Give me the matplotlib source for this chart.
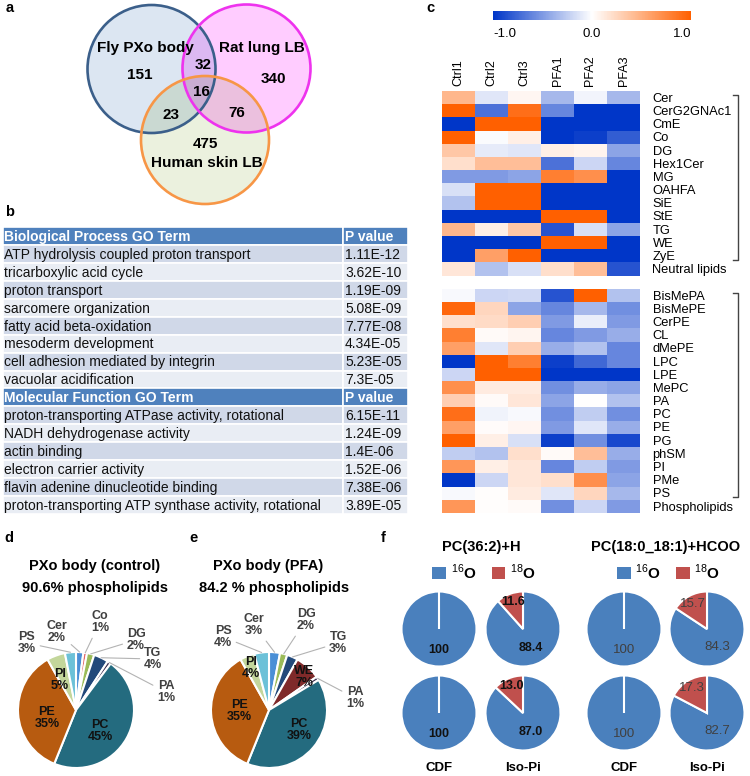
import numpy as np
import matplotlib
matplotlib.use('Agg')
import matplotlib.pyplot as plt
from matplotlib.colors import LinearSegmentedColormap, to_rgb
from matplotlib.patches import Circle, Rectangle, Patch

plt.rcParams['font.family'] = ['Liberation Sans', 'DejaVu Sans']
plt.rcParams['mathtext.fontset'] = 'custom'
plt.rcParams['mathtext.rm'] = 'Liberation Sans'
plt.rcParams['mathtext.bf'] = 'Liberation Sans:bold'
plt.rcParams['axes.unicode_minus'] = False

# ---------------- data ----------------
# a - venn
venn_names = ['Fly PXo body', 'Rat lung LB', 'Human skin LB']
venn_regions = ['fly', 'rat', 'human', 'fly_rat', 'fly_human', 'rat_human', 'all']
venn_counts = [151, 340, 475, 32, 23, 76, 16]

# b - GO terms
bp_terms = ['ATP hydrolysis coupled proton transport', 'tricarboxylic acid cycle',
            'proton transport', 'sarcomere organization', 'fatty acid beta-oxidation',
            'mesoderm development', 'cell adhesion mediated by integrin',
            'vacuolar acidification']
bp_pvals = ['1.11E-12', '3.62E-10', '1.19E-09', '5.08E-09', '7.77E-08',
            '4.34E-05', '5.23E-05', '7.3E-05']
mf_terms = ['proton-transporting ATPase activity, rotational', 'NADH dehydrogenase activity',
            'actin binding', 'electron carrier activity', 'flavin adenine dinucleotide binding',
            'proton-transporting ATP synthase activity, rotational']
mf_pvals = ['6.15E-11', '1.24E-09', '1.4E-06', '1.52E-06', '7.38E-06', '3.89E-05']

# c - heatmap (z-scores)
hm_samples = ['Ctrl1', 'Ctrl2', 'Ctrl3', 'PFA1', 'PFA2', 'PFA3']
neutral_names = ['Cer', 'CerG2GNAc1', 'CmE', 'Co', 'DG', 'Hex1Cer', 'MG', 'OAHFA',
                 'SiE', 'StE', 'TG', 'WE', 'ZyE', 'Neutral lipids']
neutral_vals = [
    [0.45, -0.12, 0.05, -0.35, -0.05, -0.35],
    [1.0, -0.7, 0.9, -0.6, -1.0, -1.0],
    [-1.0, 1.0, 1.0, -1.0, -1.0, -1.0],
    [1.0, -0.02, 0.1, -1.0, -0.95, -0.8],
    [0.35, -0.1, -0.12, 0.1, 0.07, -0.45],
    [0.2, 0.4, 0.4, -0.7, -0.2, -0.6],
    [-0.5, -0.5, -0.45, 0.8, 0.7, -1.0],
    [-0.15, 1.0, 1.0, -1.0, -1.0, -1.0],
    [-0.3, 1.0, 1.0, -1.0, -1.0, -1.0],
    [-1.0, -1.0, -1.0, 1.0, 1.0, -1.0],
    [0.45, 0.1, 0.35, -0.85, -0.15, -0.45],
    [-1.0, -1.0, -1.0, 1.0, 1.0, -1.0],
    [-1.0, 0.6, 1.0, -1.0, -1.0, -1.0],
    [0.15, -0.3, -0.15, 0.2, 0.4, -0.85],
]
phospho_names = ['BisMePA', 'BisMePE', 'CerPE', 'CL', 'dMePE', 'LPC', 'LPE', 'MePC',
                 'PA', 'PC', 'PE', 'PG', 'phSM', 'PI', 'PMe', 'PS', 'Phospholipids']
phospho_vals = [
    [-0.03, -0.2, -0.18, -0.85, 1.0, -0.3],
    [0.95, 0.25, -0.45, -0.6, -0.35, -0.55],
    [0.2, 0.22, 0.3, -0.5, -0.08, -0.5],
    [0.8, 0.03, 0.06, -0.6, -0.5, -0.4],
    [0.6, -0.12, 0.3, -0.4, -0.3, -0.6],
    [-1.0, 1.0, 0.8, -0.95, -0.75, -0.6],
    [-0.2, 1.0, 1.0, -1.0, -1.0, -1.0],
    [0.7, 0.12, 0.12, -0.55, -0.4, -0.45],
    [0.3, 0.03, 0.15, -0.45, 0.0, -0.3],
    [0.9, -0.06, -0.03, -0.55, -0.25, -0.55],
    [0.6, 0.02, 0.05, -0.5, -0.12, -0.4],
    [1.0, 0.1, -0.15, -0.95, -0.55, -0.9],
    [-0.25, -0.3, 0.2, 0.03, 0.4, -0.4],
    [0.65, 0.1, 0.15, -0.6, -0.25, -0.5],
    [-1.0, -0.2, 0.15, 0.2, 0.7, -0.45],
    [-0.03, 0.01, 0.12, -0.12, 0.25, -0.35],
    [0.65, 0.01, 0.03, -0.55, -0.2, -0.5],
]

# d, e - lipid composition (%)
ctrl_lipids = ['Cer', 'Co', 'DG', 'TG', 'PA', 'PC', 'PE', 'PI', 'PS']
ctrl_pct = [2, 1, 2, 4, 1, 45, 35, 5, 3]
pfa_lipids = ['Cer', 'DG', 'TG', 'WE', 'PA', 'PC', 'PE', 'PI', 'PS']
pfa_pct = [3, 2, 3, 7, 1, 39, 35, 4, 4]

# f - 18O incorporation (%), [species][row][sample]
iso_species = ['PC(36:2)+H', 'PC(18:0_18:1)+HCOO']
iso_samples = ['CDF', 'Iso-Pi']
o18_pct = [[[0, 11.6], [0, 13.0]],
           [[0, 15.7], [0, 17.3]]]

# ---------------- layout helpers ----------------
W, H = 750, 776
fig = plt.figure(figsize=(W / 100, H / 100), dpi=100)


def box(x0, y0, x1, y1):
    return fig.add_axes([x0 / W, 1 - y1 / H, (x1 - x0) / W, (y1 - y0) / H])


def ftext(x, y, s, **kw):
    kw.setdefault('ha', 'center')
    kw.setdefault('va', 'center')
    fig.text(x / W, 1 - y / H, s, **kw)


for lab, (x, y) in zip('abcdef', [(10, 8), (10, 212), (430, 8), (9, 538), (193, 538), (383, 538)]):
    ftext(x, y, lab, fontsize=10.5, fontweight='bold')

# ---------------- a: venn ----------------
ax = box(0, 0, 330, 210)
circles = [(151.5, 69, 64), (246.5, 68.5, 64), (205, 140, 64)]
fills = ['#dce6f2', '#ffccff', '#ebf1de']
edges = ['#3b5f8a', '#ee33ee', '#f79646']
X, Y = np.meshgrid(np.arange(330) + 0.5, np.arange(210) + 0.5)
img = np.ones((210, 330, 3))
for (cx, cy, r), fc in zip(circles, fills):
    inside = (X - cx) ** 2 + (Y - cy) ** 2 <= r ** 2
    img[inside] *= np.array(to_rgb(fc))
ax.imshow(img, extent=(0, 330, 210, 0), interpolation='bilinear')
for (cx, cy, r), ec in zip(circles, edges):
    ax.add_patch(Circle((cx, cy), r, fill=False, edgecolor=ec, lw=1.9))
name_pos = [(145, 48), (262, 48), (207, 163)]
for n, (x, y) in zip(venn_names, name_pos):
    ax.text(x, y, n, ha='center', va='center', fontsize=11, fontweight='bold')
count_pos = [(140, 75), (273, 79), (205, 144), (203, 65), (171, 115), (237, 113), (201, 92)]
for c, (x, y) in zip(venn_counts, count_pos):
    ax.text(x, y, str(c), ha='center', va='center', fontsize=11, fontweight='bold')
ax.set_xlim(0, 330)
ax.set_ylim(210, 0)
ax.axis('off')

# ---------------- b: table ----------------
ax = box(3, 227, 410, 514)
rows = ([('Biological Process GO Term', 'P value', True)]
        + [(t, p, False) for t, p in zip(bp_terms, bp_pvals)]
        + [('Molecular Function GO Term', 'P value', True)]
        + [(t, p, False) for t, p in zip(mf_terms, mf_pvals)])
k = 0
for i, (term, pv, head) in enumerate(rows):
    if head:
        fc = '#4f81bd'
        k = 0
    else:
        fc = '#d0d8e8' if k % 2 == 0 else '#e9edf4'
        k += 1
    ax.add_patch(Rectangle((0, i), 340, 1, facecolor=fc, edgecolor='white', lw=1.2))
    ax.add_patch(Rectangle((340, i), 65, 1, facecolor=fc, edgecolor='white', lw=1.2))
    kw = dict(color='white', fontweight='bold') if head else dict(color='#111111')
    ax.text(1, i + 0.55, term, va='center', ha='left', fontsize=10, **kw)
    ax.text(342, i + 0.55, pv, va='center', ha='left', fontsize=10, **kw)
ax.set_xlim(0, 407)
ax.set_ylim(len(rows), 0)
ax.axis('off')

# ---------------- c: heatmap ----------------
cmap = LinearSegmentedColormap.from_list('bwo', ['#0036c8', '#ffffff', '#ff6000'])
cmap.set_bad('white')
mat = np.vstack([np.array(neutral_vals), np.full((1, 6), np.nan), np.array(phospho_vals)])
row_names = neutral_names + [''] + phospho_names
ax = box(442, 90.7, 640, 512.7)
im = ax.imshow(np.ma.masked_invalid(mat), cmap=cmap, vmin=-1, vmax=1, aspect='auto',
               interpolation='nearest')
ax.set_xticks(range(6))
ax.set_xticklabels(hm_samples, rotation=90, fontsize=9)
ax.xaxis.tick_top()
ytk = [i for i, n in enumerate(row_names) if n]
ax.set_yticks(ytk)
ax.set_yticklabels([row_names[i] for i in ytk], fontsize=9.3)
ax.yaxis.tick_right()
ax.tick_params(length=0, pad=3.5)
ax.tick_params(axis='y', pad=9)
for s in ax.spines.values():
    s.set_visible(False)
n_neu = len(neutral_names)
for first, last in [(0, n_neu - 2), (n_neu + 1, n_neu + len(phospho_names) - 1)]:
    ax.plot([8.32, 8.47, 8.47, 8.32], [first - 0.17, first - 0.17, last + 0.3, last + 0.3],
            color='#444444', lw=1.0, clip_on=False)
ax.set_xlim(-0.5, 5.5)
ax.set_ylim(len(row_names) - 0.5, -0.5)

cax = box(493, 11, 691, 20)
cb = fig.colorbar(im, cax=cax, orientation='horizontal', ticks=[-1, 0, 1])
cb.outline.set_visible(False)
cb.ax.set_xticklabels(['-1.0', '0.0', '1.0'], fontsize=9.5)
cb.ax.tick_params(length=0, pad=6)
tl = cb.ax.get_xticklabels()
tl[0].set_ha('left')
tl[-1].set_ha('right')

# ---------------- d, e: pies ----------------
lipid_colors = {'Cer': '#4a8fd6', 'Co': '#e06666', 'DG': '#9bbb59', 'TG': '#23497a',
                'WE': '#7f2a2a', 'PA': '#403152', 'PC': '#246b7f', 'PE': '#b75b10',
                'PI': '#c3d69b', 'PS': '#6cc1d8'}
inside_labels = ['PC', 'PE', 'PI', 'WE']


def lipid_pie(ax, names, pct, label_pos, r=58):
    wedges, _ = ax.pie(pct, colors=[lipid_colors[n] for n in names], startangle=90,
                       counterclock=False, radius=r,
                       wedgeprops=dict(edgecolor='white', linewidth=1.5))
    for w, n, p in zip(wedges, names, pct):
        lx, ly = label_pos[n]
        txt = f'{n}\n{p}%'
        if n in inside_labels:
            ax.text(lx, ly, txt, ha='center', va='center', fontsize=9, fontweight='bold',
                    color='#111111', linespacing=1.05)
        else:
            ang = np.deg2rad((w.theta1 + w.theta2) / 2)
            ax.annotate(txt, xy=(r * np.cos(ang), r * np.sin(ang)), xytext=(lx, ly),
                        ha='center', va='center', fontsize=9, fontweight='bold',
                        color='#404040', linespacing=1.05,
                        arrowprops=dict(arrowstyle='-', color='#b3b3b3', lw=0.8,
                                        shrinkA=1, shrinkB=0))


ctrl_lab_pos = {'Cer': (-19, 78), 'Co': (24, 88), 'DG': (60, 70), 'TG': (77, 51),
                'PA': (90, 18), 'PC': (24, -21), 'PE': (-29, -8), 'PI': (-16, 30),
                'PS': (-49, 67)}
pfa_lab_pos = {'Cer': (-15, 85), 'DG': (37, 90), 'TG': (69, 67), 'WE': (35, 33),
               'PA': (86, 12), 'PC': (30, -20), 'PE': (-30, -1), 'PI': (-18, 42),
               'PS': (-46, 73)}

ftext(95, 566, 'PXo body (control)', fontsize=10.5, fontweight='bold')
ftext(95, 588, '90.6% phospholipids', fontsize=10.5, fontweight='bold')
ax = box(0, 600, 190, 776)
lipid_pie(ax, ctrl_lipids, ctrl_pct, ctrl_lab_pos)
ax.set_xlim(-76, 114)
ax.set_ylim(-66, 110)
ax.axis('off')

ftext(268, 566, 'PXo body (PFA)', fontsize=10.5, fontweight='bold')
ftext(274, 588, '84.2 % phospholipids', fontsize=10.5, fontweight='bold')
ax = box(192, 600, 382, 776)
lipid_pie(ax, pfa_lipids, pfa_pct, pfa_lab_pos)
ax.set_xlim(-77, 113)
ax.set_ylim(-66, 110)
ax.axis('off')

# ---------------- f: 18O pies ----------------
blue, red = '#4a80bd', '#c0504d'
f_cols = [439, 523, 624, 707]
f_rows = [629, 713]
R = 37.5
for si, sp in enumerate(iso_species):
    xc = (f_cols[2 * si] + f_cols[2 * si + 1]) / 2
    ftext(xc, 547, sp, fontsize=10.5, fontweight='bold')
    handles = [Patch(facecolor=blue), Patch(facecolor=red)]
    fig.legend(handles, [r'$^{16}$O', r'$^{18}$O'], ncol=2, loc='center',
               bbox_to_anchor=((xc + 3) / W, 1 - 572 / H), frameon=False,
               prop=dict(size=11, weight='bold'), handlelength=0.9, handleheight=0.8,
               handletextpad=0.3, columnspacing=1.0)
    txt_kw = dict(fontweight='bold', color='#111111', fontsize=9) if si == 0 else \
        dict(fontweight='normal', color='#404040', fontsize=9.5)
    for ri in range(2):
        for ci, samp in enumerate(iso_samples):
            o18 = o18_pct[si][ri][ci]
            vals = [100 - o18, o18]
            cx, cy = f_cols[2 * si + ci], f_rows[ri]
            ax = box(cx - R * 1.05, cy - R * 1.05, cx + R * 1.05, cy + R * 1.05)
            # clockwise from 12 o'clock: 16O first, so the 18O slice ends at the top
            wedges, _ = ax.pie(vals, colors=[blue, red], startangle=90, counterclock=False,
                               wedgeprops=dict(edgecolor='white', linewidth=1.5))
            for w, v in zip(wedges, vals):
                if v == 0:
                    continue
                ang = np.deg2rad((w.theta1 + w.theta2) / 2)
                d = 0.77 if v < 50 else 0.55
                s = '100' if v == 100 else f'{v:.1f}'
                ax.text(d * np.cos(ang), d * np.sin(ang), s, ha='center', va='center', **txt_kw)
            ax.set_xlim(-1.05, 1.05)
            ax.set_ylim(-1.05, 1.05)
            ax.axis('off')
            if ri == 1:
                ftext(cx, 768, samp, fontsize=9.5, fontweight='bold')

fig.savefig('out.png', dpi=100)
